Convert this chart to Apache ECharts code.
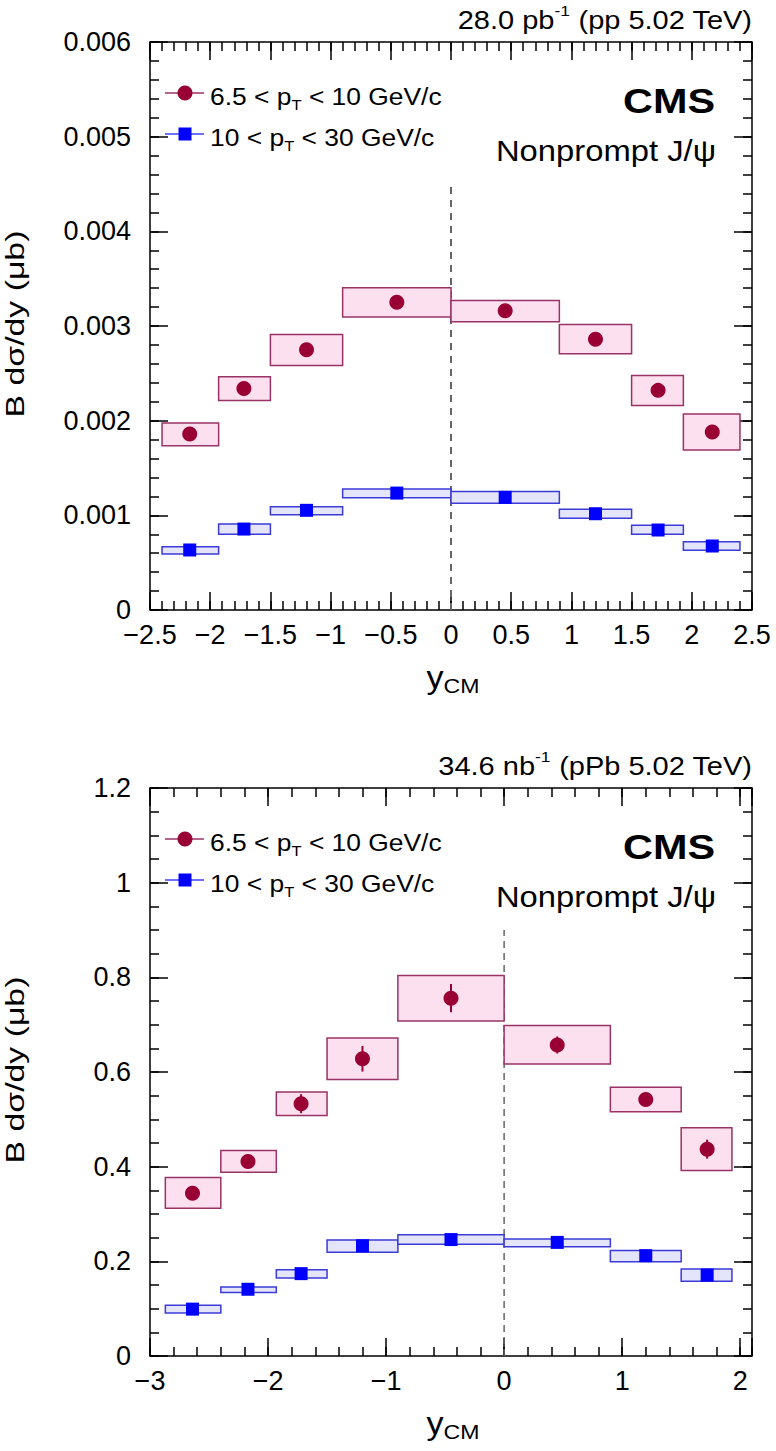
<!DOCTYPE html>
<html><head><meta charset="utf-8">
<script src="https://cdn.jsdelivr.net/npm/echarts@6/dist/echarts.min.js"></script>
<style>html,body{margin:0;padding:0;background:#fff}#c{width:776px;height:1451px}</style>
</head><body><div id="c"></div><script>
// ---------- pp panel (top) ----------
const ppBinLo = [-2.4, -1.93, -1.5, -0.9, 0, 0.9, 1.5, 1.93];
const ppBinHi = [-1.93, -1.5, -0.9, 0, 0.9, 1.5, 1.93, 2.4];
const ppX = [-2.17, -1.72, -1.20, -0.45, 0.45, 1.20, 1.72, 2.17];
const ppLow = [0.00186, 0.00234, 0.00275, 0.00325, 0.00316, 0.00286, 0.00232, 0.00188];
const ppLowSysLo = [0.001735, 0.002214, 0.002583, 0.003094, 0.003045, 0.002707, 0.002161, 0.00169];
const ppLowSysHi = [0.001975, 0.002464, 0.002911, 0.003404, 0.00327, 0.003017, 0.002478, 0.00207];
const ppHigh = [0.000634, 0.000855, 0.001053, 0.001235, 0.00119, 0.001017, 0.000845, 0.000676];
const ppHighSysLo = [0.000591, 0.000799, 0.001007, 0.001186, 0.001127, 0.000968, 0.000799, 0.00063];
const ppHighSysHi = [0.000669, 0.000908, 0.001091, 0.001278, 0.001253, 0.001063, 0.000894, 0.000721];
const ppXTicks = [-2.5, 2.5, 0.5, 0.1];      // min, max, major, minor
const ppYTicks = [0, 0.006, 0.001, 0.0002];
const ppDashTop = 0.0045;

// ---------- pPb panel (bottom) ----------
const pbBinLo = [-2.87, -2.4, -1.93, -1.5, -0.9, 0, 0.9, 1.5];
const pbBinHi = [-2.4, -1.93, -1.5, -0.9, 0, 0.9, 1.5, 1.93];
const pbX = [-2.64, -2.17, -1.72, -1.20, -0.45, 0.45, 1.20, 1.72];
const pbLow = [0.344, 0.411, 0.533, 0.628, 0.756, 0.657, 0.542, 0.437];
const pbLowStat = [0.008, 0.008, 0.02, 0.027, 0.03, 0.018, 0.008, 0.02];
const pbLowSysLo = [0.312, 0.388, 0.508, 0.584, 0.708, 0.617, 0.516, 0.392];
const pbLowSysHi = [0.377, 0.434, 0.558, 0.672, 0.804, 0.698, 0.568, 0.482];
const pbHigh = [0.099, 0.141, 0.174, 0.233, 0.246, 0.240, 0.212, 0.171];
const pbHighSysLo = [0.091, 0.134, 0.165, 0.219, 0.236, 0.231, 0.199, 0.158];
const pbHighSysHi = [0.107, 0.146, 0.182, 0.245, 0.256, 0.247, 0.223, 0.184];
const pbXTicks = [-3, 2.1, 1, 0.2];
const pbYTicks = [0, 1.2, 0.2, 0.05];
const pbDashTop = 0.9;

// ---------- text ----------
const seriesNames = ['6.5 < p_T < 10 GeV/c', '10 < p_T < 30 GeV/c'];
const headers = ['28.0 pb^-1 (pp 5.02 TeV)', '34.6 nb^-1 (pPb 5.02 TeV)'];
const yTitle = 'B dσ/dy (μb)';

const FONT = "'Liberation Sans', Arial, Helvetica, sans-serif";
const RED = '#990033', RED_FILL = '#fde0ef', RED_LINE = '#993366';
const BLUE = '#0000ff', BLUE_FILL = '#e4e4fa', BLUE_LINE = '#3b3bd8';

const grids = [
  {left: 150, top: 42, width: 602, height: 568},
  {left: 150, top: 788, width: 602, height: 568}
];

function minusFmt(s) { return String(s).replace('-', '\u2212'); }

const xAxes = [], yAxes = [];
function addAxes(gi, xt, yt, xFmt, yFmt) {
  const tickStyle = {color: '#000', width: 1.5};
  [['bottom', true], ['top', false]].forEach(([pos, lab]) => {
    xAxes.push({gridIndex: gi, type: 'value', position: pos, min: xt[0], max: xt[1], interval: xt[2],
      axisLine: {show: false, onZero: false}, splitLine: {show: false},
      axisTick: {inside: true, length: 18, lineStyle: tickStyle},
      axisLabel: {show: lab, margin: 11, fontSize: 27, fontFamily: FONT, color: '#000', formatter: xFmt,
        showMinLabel: true, showMaxLabel: true}});
    xAxes.push({gridIndex: gi, type: 'value', position: pos, min: xt[0], max: xt[1], interval: xt[3],
      axisLine: {show: false, onZero: false}, splitLine: {show: false},
      axisTick: {inside: true, length: 9, lineStyle: tickStyle}, axisLabel: {show: false}});
  });
  [['left', true], ['right', false]].forEach(([pos, lab]) => {
    yAxes.push({gridIndex: gi, type: 'value', position: pos, min: yt[0], max: yt[1], interval: yt[2],
      axisLine: {show: false, onZero: false}, splitLine: {show: false},
      axisTick: {inside: true, length: 18, lineStyle: tickStyle},
      axisLabel: {show: lab, margin: 19, fontSize: 27, fontFamily: FONT, color: '#000', formatter: yFmt}});
    yAxes.push({gridIndex: gi, type: 'value', position: pos, min: yt[0], max: yt[1], interval: yt[3],
      axisLine: {show: false, onZero: false}, splitLine: {show: false},
      axisTick: {inside: true, length: 9, lineStyle: tickStyle}, axisLabel: {show: false}});
  });
}
addAxes(0, ppXTicks, ppYTicks,
  v => minusFmt(parseFloat(v.toFixed(2))),
  v => (Math.abs(v) < 1e-9 ? '0' : v.toFixed(3)));
addAxes(1, pbXTicks, pbYTicks,
  v => (Math.abs(v - Math.round(v)) < 1e-6 ? minusFmt(Math.round(v)) : ''),
  v => String(parseFloat(v.toFixed(2))));

function boxSeries(axIdx, lo, hi, ylo, yhi, fill, stroke) {
  return {type: 'custom', xAxisIndex: axIdx, yAxisIndex: axIdx, z: 2, silent: true,
    data: lo.map((v, i) => [v, hi[i], ylo[i], yhi[i]]),
    renderItem: (params, api) => {
      const p0 = api.coord([api.value(0), api.value(3)]);
      const p1 = api.coord([api.value(1), api.value(2)]);
      return {type: 'rect', shape: {x: p0[0], y: p0[1], width: p1[0] - p0[0], height: p1[1] - p0[1]},
        style: {fill: fill, stroke: stroke, lineWidth: 1.5}};
    }};
}
function errSeries(axIdx, xs, ys, es, color) {
  return {type: 'custom', xAxisIndex: axIdx, yAxisIndex: axIdx, z: 3, silent: true,
    data: xs.map((x, i) => [x, ys[i] - es[i], ys[i] + es[i]]),
    renderItem: (params, api) => {
      const a = api.coord([api.value(0), api.value(1)]);
      const b = api.coord([api.value(0), api.value(2)]);
      return {type: 'line', shape: {x1: a[0], y1: a[1], x2: b[0], y2: b[1]}, style: {stroke: color, lineWidth: 2}};
    }};
}
function markerSeries(axIdx, xs, ys, symbol, size, color) {
  return {type: 'scatter', xAxisIndex: axIdx, yAxisIndex: axIdx, z: 4, silent: true,
    symbol: symbol, symbolSize: size, itemStyle: {color: color, opacity: 1},
    data: xs.map((x, i) => [x, ys[i]])};
}
function dashSeries(axIdx, top, width, dash) {
  return {type: 'line', xAxisIndex: axIdx, yAxisIndex: axIdx, z: 1, silent: true, symbol: 'none',
    lineStyle: {color: '#666', width: width, type: dash}, data: [[0, 0], [0, top]]};
}

const series = [
  dashSeries(0, ppDashTop, 2, [7, 6]),
  boxSeries(0, ppBinLo, ppBinHi, ppLowSysLo, ppLowSysHi, RED_FILL, RED_LINE),
  boxSeries(0, ppBinLo, ppBinHi, ppHighSysLo, ppHighSysHi, BLUE_FILL, BLUE_LINE),
  markerSeries(0, ppX, ppLow, 'circle', 15, RED),
  markerSeries(0, ppX, ppHigh, 'rect', 13, BLUE),
  dashSeries(4, pbDashTop, 1.5, [7, 5]),
  boxSeries(4, pbBinLo, pbBinHi, pbLowSysLo, pbLowSysHi, RED_FILL, RED_LINE),
  boxSeries(4, pbBinLo, pbBinHi, pbHighSysLo, pbHighSysHi, BLUE_FILL, BLUE_LINE),
  errSeries(4, pbX, pbLow, pbLowStat, RED),
  markerSeries(4, pbX, pbLow, 'circle', 15, RED),
  markerSeries(4, pbX, pbHigh, 'rect', 13, BLUE)
];

const richBase = {
  n: {fontSize: 24, fontFamily: FONT, color: '#000', lineHeight: 28, verticalAlign: 'top'},
  sub: {fontSize: 15, fontFamily: FONT, color: '#000', lineHeight: 16, verticalAlign: 'bottom', padding: [22, 0, 0, 0]}
};
const richHead = {
  n: {fontSize: 25, fontFamily: FONT, color: '#000', lineHeight: 30, verticalAlign: 'bottom'},
  sup: {fontSize: 15, fontFamily: FONT, color: '#000', lineHeight: 16, verticalAlign: 'top'}
};
const richX = {
  n: {fontSize: 31, fontFamily: FONT, color: '#000', lineHeight: 34, verticalAlign: 'top'},
  sub: {fontSize: 21, fontFamily: FONT, color: '#000', lineHeight: 22, verticalAlign: 'bottom', padding: [24, 0, 0, 0]}
};
function toRichSub(s) { const p = s.split('_'); return '{n|' + p[0] + '}{sub|' + p[1].slice(0, 1) + '}{n|' + p[1].slice(1) + '}'; }
function toRichSup(s) { const p = s.split('^'); const k = p[1].indexOf(' '); return '{n|' + p[0] + '}{sup|' + p[1].slice(0, k) + '}{n|' + p[1].slice(k) + '}'; }

const graphic = [];
[0, 1].forEach(k => {
  const off = k * 746;
  graphic.push({type: 'text', x: 752, y: 18 + off, scaleX: 1.16, style: {text: toRichSup(headers[k]), rich: richHead, align: 'right', verticalAlign: 'middle'}});
  graphic.push({type: 'text', x: 715, y: 100 + off, scaleX: 1.15, style: {text: 'CMS', font: 'bold 36px ' + FONT, fill: '#000', align: 'right', verticalAlign: 'middle'}});
  graphic.push({type: 'text', x: 716, y: 151 + off, scaleX: 1.13, style: {text: 'Nonprompt J/\u03c8', font: '29px ' + FONT, fill: '#000', align: 'right', verticalAlign: 'middle'}});
  // legend
  graphic.push({type: 'line', shape: {x1: 165, y1: 93 + off, x2: 204, y2: 93 + off}, style: {stroke: RED_LINE, lineWidth: 1.5}});
  graphic.push({type: 'circle', shape: {cx: 185, cy: 93 + off, r: 7.5}, style: {fill: RED}});
  graphic.push({type: 'text', x: 210, y: 98 + off, scaleX: 1.1, style: {text: toRichSub(seriesNames[0]), rich: richBase, align: 'left', verticalAlign: 'middle'}});
  graphic.push({type: 'line', shape: {x1: 165, y1: 134 + off, x2: 204, y2: 134 + off}, style: {stroke: '#4040ff', lineWidth: 1.5}});
  graphic.push({type: 'rect', shape: {x: 178.5, y: 127.5 + off, width: 13, height: 13}, style: {fill: BLUE}});
  graphic.push({type: 'text', x: 210, y: 139 + off, scaleX: 1.1, style: {text: toRichSub(seriesNames[1]), rich: richBase, align: 'left', verticalAlign: 'middle'}});
  // axis titles
  graphic.push({type: 'text', x: 453, y: 679 + off, scaleX: 1.1, style: {text: '{n|y}{sub|CM}', rich: richX, align: 'center', verticalAlign: 'middle'}});
  graphic.push({type: 'text', x: 15, y: 324 + off, rotation: Math.PI / 2, scaleX: 1.3, style: {text: yTitle, font: '26px ' + FONT, fill: '#000', align: 'center', verticalAlign: 'middle'}});
});

const chart = echarts.init(document.getElementById('c'), null, {renderer: 'svg'});
chart.setOption({
  animation: false,
  backgroundColor: '#fff',
  grid: grids.map(g => Object.assign({show: true, borderColor: '#000', borderWidth: 1.5, backgroundColor: 'transparent', containLabel: false}, g)),
  xAxis: xAxes,
  yAxis: yAxes,
  series: series,
  graphic: graphic
});
</script></body></html>
